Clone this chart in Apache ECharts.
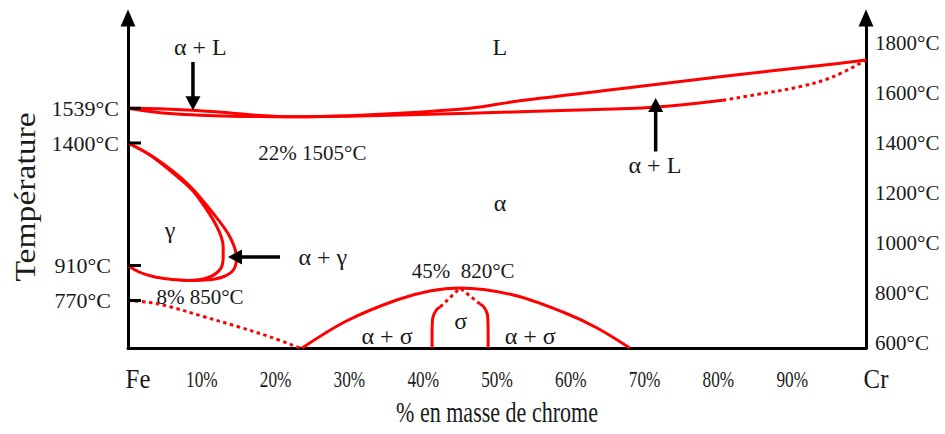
<!DOCTYPE html>
<html>
<head>
<meta charset="utf-8">
<script src="https://cdn.jsdelivr.net/npm/echarts@6/dist/echarts.min.js"></script>
<style>
  html, body { margin: 0; padding: 0; background: #fff; }
  #chart { width: 945px; height: 434px; }
</style>
</head>
<body>
<div id="chart"></div>
<script>
// Fe–Cr equilibrium phase diagram (temperature vs. mass % chromium)

const SERIF = '"Liberation Serif", "DejaVu Serif", serif';
const RED = '#ff0000';
const INK = '#1a1a1a';

function serifFont(size) { return size + 'px ' + SERIF; }

// ---- axes ----
const tempMin = 580;
const tempMax = 1900;
const xTickValues = [0, 10, 20, 30, 40, 50, 60, 70, 80, 90, 100];
const xTickLabels = ['Fe', '10%', '20%', '30%', '40%', '50%', '60%', '70%', '80%', '90%', 'Cr'];
const rightTempTicks = [600, 800, 1000, 1200, 1400, 1600, 1800];
const leftTempMarks = [1539, 1400, 910, 770];

// ---- key points ----
const congruentMin = [22, 1505];
const gammaLoopMin = [8, 850];
const sigmaMax = [45, 820];

// ---- phase boundaries: [mass % Cr, °C] ----
const liquidus = [[0, 1539], [4.3, 1537], [8.8, 1531], [13.9, 1520], [17.9, 1510], congruentMin,
  [32.8, 1513], [46.3, 1539], [53.1, 1569], [66.7, 1617], [80.2, 1665], [93.8, 1710], [100, 1732]];
const solidus = [[0, 1539], [3, 1526], [5.7, 1518], [9.8, 1511], [13.9, 1507], [17.9, 1505.5], congruentMin,
  [32.8, 1509], [46.3, 1519], [59.9, 1531], [71.2, 1543], [80.6, 1571]];
const solidusUncertain = [[80.6, 1571], [86, 1598], [91, 1625], [95.5, 1664], [100, 1732]];

const gammaOuter = [[0, 1400], [3.4, 1345], [8, 1239], [11.5, 1120], [13.8, 1025], [14.7, 940],
  [14.3, 893], [13, 866], [11, 853], gammaLoopMin];
const gammaInner = [[0, 1400], [3.4, 1343], [7.9, 1234], [9.5, 1183], [12, 1068], [12.9, 985],
  [12.9, 945], [12.5, 895], [10.7, 860], gammaLoopMin];
const gammaLower = [gammaLoopMin, [5.5, 856], [3.4, 866], [1.5, 884], [0, 910]];

const curieLine = [[0, 770], [3, 762], [5.7, 745], [10.2, 706], [14.7, 667], [19.2, 625], [23.3, 580]];

const sigmaDome = [[23.6, 580], [29.6, 688], [36.4, 772], [40.9, 808], sigmaMax,
  [52.2, 792], [59, 723], [63.5, 661], [68, 580]];
const sigmaLeft = [[41.2, 580], [41.2, 640], [41.3, 700], [41.8, 733], [42.3, 744]];
const sigmaLeftUncertain = [[42.3, 744], sigmaMax];
const sigmaRight = [[48.8, 580], [48.8, 640], [48.7, 714], [48.2, 745], [47.7, 756]];
const sigmaRightUncertain = [[47.7, 756], sigmaMax];

// ---- field labels ----
const fieldNames = ['L', 'α + L', 'α + L', 'α', 'γ', 'α + γ', 'α + σ', 'σ', 'α + σ'];
const fieldAnchors = [[50.4, 1784], [9.8, 1784], [71.4, 1312], [50.4, 1160], [5.7, 1052],
  [26.4, 944], [35.1, 628], [45.1, 688], [54.5, 628]];

// ---- pointer arrows: [x0, T0, x1 (tip), T1 (tip)] ----
const pointers = [
  [8.8, 1724, 8.8, 1531],
  [71.5, 1366, 71.5, 1580],
  [20.6, 944, 13.55, 944]
];

// ---- annotated points ----
const notedPoints = [congruentMin, gammaLoopMin, sigmaMax];
const notedSep = [' ', ' ', '  '];
const notedOffset = [[22, 36], [13, 16], [3, -17]];

function curve(data, dotted, smooth) {
  return {
    type: 'line',
    data: data,
    showSymbol: false,
    symbol: 'none',
    smooth: smooth === undefined ? 0.35 : smooth,
    silent: true,
    z: 3,
    lineStyle: { color: RED, width: 3, type: dotted ? [3.5, 3.5] : 'solid', cap: 'butt', join: 'round' }
  };
}

const chart = echarts.init(document.getElementById('chart'), null, { renderer: 'svg' });

const axisLineStyle = { color: '#000', width: 3 };

chart.setOption({
  animation: false,
  backgroundColor: '#fff',
  grid: { left: 128, right: 79, top: 18, bottom: 86, containLabel: false },
  xAxis: {
    type: 'value',
    min: 0, max: 100, interval: 10,
    axisLine: { lineStyle: axisLineStyle },
    axisTick: { show: false },
    splitLine: { show: false },
    axisLabel: { show: false }
  },
  yAxis: [
    {
      type: 'value', position: 'left',
      min: tempMin, max: tempMax, interval: 20,
      axisLine: { show: true, symbol: ['none', 'triangle'], symbolSize: [15, 17], lineStyle: axisLineStyle },
      axisTick: { show: false }, axisLabel: { show: false }, splitLine: { show: false }
    },
    {
      type: 'value', position: 'right',
      min: tempMin, max: tempMax, interval: 20,
      axisLine: { show: true, symbol: ['none', 'triangle'], symbolSize: [15, 17], lineStyle: axisLineStyle },
      axisTick: { show: false }, splitLine: { show: false },
      axisLabel: {
        margin: 9, color: INK, fontFamily: SERIF, fontSize: 21,
        formatter: function (v) { return rightTempTicks.indexOf(v) >= 0 ? v + '°C' : ''; }
      }
    }
  ],
  graphic: [
    { type: 'text', x: 497, y: 412, scaleX: 0.76, style: { text: '% en masse de chrome', font: serifFont(29), fill: INK, align: 'center', verticalAlign: 'middle' } },
    { type: 'text', x: 25, y: 197, rotation: Math.PI / 2, scaleX: 1.12, style: { text: 'Température', font: serifFont(30), fill: INK, align: 'center', verticalAlign: 'middle' } }
  ],
  series: [
    curve(liquidus),
    curve(solidus),
    curve(solidusUncertain, true),
    curve(gammaOuter),
    curve(gammaInner),
    curve(gammaLower),
    curve(curieLine, true),
    curve(sigmaDome),
    curve(sigmaLeft, false, 0.3),
    curve(sigmaLeftUncertain, true, false),
    curve(sigmaRight, false, 0.3),
    curve(sigmaRightUncertain, true, false),
    // composition tick labels under the x axis
    {
      type: 'custom', silent: true, z: 4,
      data: xTickValues.map(function (v) { return [v, tempMin]; }),
      renderItem: function (params, api) {
        const i = params.dataIndex;
        const p = api.coord([api.value(0), api.value(1)]);
        const isElem = (i === 0 || i === xTickValues.length - 1);
        return {
          type: 'text', x: p[0] + (isElem ? 10 : 0), y: p[1] + 31,
          scaleX: isElem ? 0.92 : 0.75,
          style: { text: xTickLabels[i], font: serifFont(isElem ? 27 : 23), fill: INK, align: 'center', verticalAlign: 'middle' }
        };
      }
    },
    // left-axis reference temperatures
    {
      type: 'custom', silent: true, z: 4,
      data: leftTempMarks.map(function (t) { return [0, t]; }),
      renderItem: function (params, api) {
        const p = api.coord([api.value(0), api.value(1)]);
        const t = leftTempMarks[params.dataIndex];
        return {
          type: 'group',
          children: [
            { type: 'line', shape: { x1: p[0], y1: p[1], x2: p[0] + 13, y2: p[1] }, style: { stroke: '#000', lineWidth: 3 } },
            { type: 'text', x: p[0] - (t >= 1000 ? 9 : 17), y: p[1], style: { text: t + '°C', font: serifFont(22), fill: INK, align: 'right', verticalAlign: 'middle' } }
          ]
        };
      }
    },
    // field names
    {
      type: 'custom', silent: true, z: 5,
      data: fieldAnchors,
      renderItem: function (params, api) {
        const p = api.coord([api.value(0), api.value(1)]);
        return { type: 'text', x: p[0], y: p[1], style: { text: fieldNames[params.dataIndex], font: serifFont(24), fill: INK, align: 'center', verticalAlign: 'middle' } };
      }
    },
    // annotated composition / temperature points
    {
      type: 'custom', silent: true, z: 5,
      data: notedPoints,
      renderItem: function (params, api) {
        const i = params.dataIndex;
        const p = api.coord([api.value(0), api.value(1)]);
        const txt = notedPoints[i][0] + '%' + notedSep[i] + notedPoints[i][1] + '°C';
        return { type: 'text', x: p[0] + notedOffset[i][0], y: p[1] + notedOffset[i][1], style: { text: txt, font: serifFont(21), fill: INK, align: 'center', verticalAlign: 'middle' } };
      }
    },
    // pointer arrows
    {
      type: 'custom', silent: true, z: 5,
      data: pointers,
      encode: { x: [0, 2], y: [1, 3] },
      renderItem: function (params, api) {
        const a = api.coord([api.value(0), api.value(1)]);
        const b = api.coord([api.value(2), api.value(3)]);
        const dx = b[0] - a[0], dy = b[1] - a[1];
        const len = Math.sqrt(dx * dx + dy * dy);
        const ux = dx / len, uy = dy / len;
        const headL = 14, headW = 7.5;
        const base = [b[0] - ux * headL, b[1] - uy * headL];
        return {
          type: 'group',
          children: [
            { type: 'line', shape: { x1: a[0], y1: a[1], x2: base[0] + ux, y2: base[1] + uy }, style: { stroke: '#000', lineWidth: 3.5 } },
            { type: 'polygon', shape: { points: [[b[0], b[1]], [base[0] - uy * headW, base[1] + ux * headW], [base[0] + uy * headW, base[1] - ux * headW]] }, style: { fill: '#000' } }
          ]
        };
      }
    }
  ]
});
</script>
</body>
</html>
